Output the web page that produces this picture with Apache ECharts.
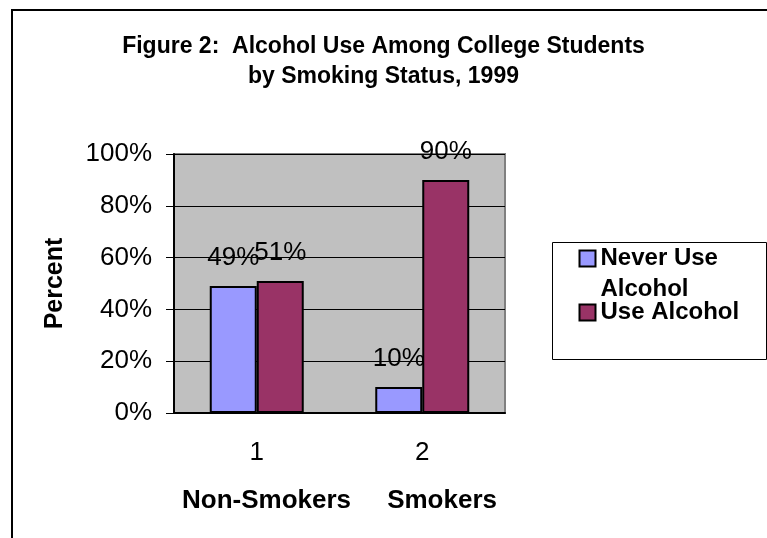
<!DOCTYPE html>
<html>
<head>
<meta charset="utf-8">
<script src="https://cdn.jsdelivr.net/npm/echarts@6/dist/echarts.min.js"></script>
<style>
  html, body { margin: 0; padding: 0; background: #fff; }
  #chart { width: 767px; height: 538px; }
</style>
</head>
<body>
<div id="chart"></div>
<script>
"use strict";

// data
const categories = ["1", "2"];
const series_names = ["Never Use Alcohol", "Use Alcohol"];
const never_use = [49, 10];
const use_alcohol = [51, 90];
const title_lines = ["Figure 2:  Alcohol Use Among College Students", "by Smoking Status, 1999"];
const x_name = "Non-Smokers     Smokers";
const y_name = "Percent";

const FONT = "Liberation Sans, Arial, sans-serif";
const chart_colors = ["#9999FF", "#993366"];

const chart = echarts.init(document.getElementById("chart"));

const series_common = {
  type: "bar",
  barWidth: 47,
  barGap: "0%",
  animation: false,
  itemStyle: { borderColor: "#000", borderWidth: 2 },
  label: {
    show: true,
    position: "top",
    distance: 15,
    formatter: "{c}%",
    fontFamily: FONT,
    fontSize: 26,
    color: "#000",
  },
};

chart.setOption({
  title: {
    text: title_lines.join("\n"),
    left: "center",
    top: 27,
    textStyle: {
      fontFamily: FONT,
      fontSize: 23,
      fontWeight: "bold",
      lineHeight: 30,
      color: "#000",
    },
  },
  grid: {
    // plot margins
    left: 174,
    top: 154,
    right: 262,
    bottom: 125,
    show: true,
    backgroundColor: "#C0C0C0",
    borderColor: "#808080",
    borderWidth: 2,
  },
  legend: {
    orient: "vertical",
    left: 578.5,
    top: 212,
    padding: 0,
    itemWidth: 16,
    itemHeight: 16,
    itemGap: -8,
    icon: "rect",
    data: series_names,
    formatter: function (name) {
      // leading empty line keeps the first line level with the icon
      return name === series_names[0] ? "\nNever Use\nAlcohol" : name;
    },
    textStyle: {
      fontFamily: FONT,
      fontSize: 24,
      fontWeight: "bold",
      lineHeight: 31,
      color: "#000",
    },
  },
  xAxis: {
    type: "category",
    data: categories,
    name: x_name,
    nameLocation: "middle",
    nameGap: 75,
    nameTextStyle: { fontFamily: FONT, fontSize: 26, fontWeight: "bold", color: "#000" },
    axisLine: { lineStyle: { color: "#000", width: 2 } },
    axisTick: { length: 8, lineStyle: { color: "#000" } },
    axisLabel: { margin: 27, fontFamily: FONT, fontSize: 26, color: "#000" },
  },
  yAxis: {
    type: "value",
    min: 0,
    max: 100,
    interval: 20,
    name: y_name,
    nameLocation: "middle",
    nameGap: 106,
    nameTextStyle: { fontFamily: FONT, fontSize: 25, fontWeight: "bold", color: "#000" },
    axisLine: { show: true, lineStyle: { color: "#000", width: 2 } },
    axisTick: { show: true, length: 8, lineStyle: { color: "#000" } },
    axisLabel: { margin: 22, formatter: "{value}%", fontFamily: FONT, fontSize: 26, color: "#000" },
    splitLine: { lineStyle: { color: "#000", width: 1 } },
  },
  series: [
    { ...series_common, name: series_names[0], data: never_use, color: chart_colors[0] },
    { ...series_common, name: series_names[1], data: use_alcohol, color: chart_colors[1] },
  ],
  graphic: [
    {
      // outer frame
      type: "rect",
      silent: true,
      shape: { x: 12, y: 10, width: 1000, height: 1000 },
      style: { fill: "none", stroke: "#000", lineWidth: 2 },
      z: -1,
    },
    {
      // legend box
      type: "rect",
      silent: true,
      shape: { x: 552.5, y: 242.5, width: 214, height: 117 },
      style: { fill: "#fff", stroke: "#000", lineWidth: 1 },
      z: -1,
    },
  ],
});
</script>
</body>
</html>
